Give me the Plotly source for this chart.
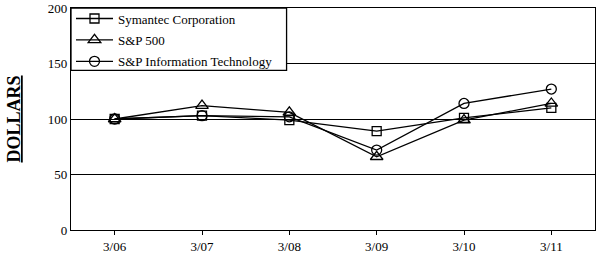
import plotly.graph_objects as go

categories = ["3/06", "3/07", "3/08", "3/09", "3/10", "3/11"]
symantec = [100, 103, 99, 89, 101, 110]
sp500 = [100, 112, 106, 66, 99, 114]
sp_it = [100, 103, 102, 72, 114, 127]

font_family = "Liberation Serif"

fig = go.Figure()
series = [
    ("Symantec Corporation", symantec, "square-open", 9),
    ("S&P 500", sp500, "triangle-up-open", 11),
    ("S&P Information Technology", sp_it, "circle-open", 10),
]
for i, (name, vals, sym, size) in enumerate(series):
    fig.add_trace(go.Scatter(
        x=list(range(len(categories))), y=vals, name=name, mode="lines+markers",
        legendgroup=f"g{i}",
        line=dict(color="black", width=1.3),
        marker=dict(symbol=sym, size=size, color="black", line=dict(width=1.3, color="black")),
    ))

# legend frame
fig.add_shape(type="rect", xref="paper", yref="paper", x0=0, x1=0.4114, y0=0.7188, y1=1,
              line=dict(color="black", width=1.3), fillcolor="white", layer="above")

fig.update_layout(
    width=597, height=255,
    margin=dict(l=71, r=1, t=8, b=23),
    paper_bgcolor="white", plot_bgcolor="white",
    font=dict(family=font_family, size=13, color="black"),
    showlegend=True,
    legend=dict(
        x=0, y=1.02, xanchor="left", yanchor="top",
        borderwidth=0, bgcolor="rgba(0,0,0,0)",
        font=dict(family=font_family, size=13),
        itemwidth=37, tracegroupgap=1.5,
    ),
    xaxis=dict(
        range=[-0.5, 5.5], tickmode="array", tickvals=list(range(len(categories))),
        ticktext=categories, showgrid=False, zeroline=False,
        showline=True, linecolor="black", linewidth=1.3, mirror=True,
        ticks="outside", ticklen=4, tickcolor="black",
    ),
    yaxis=dict(
        range=[0, 200], tickvals=[0, 50, 100, 150, 200], showgrid=True,
        gridcolor="black", gridwidth=1.3, zeroline=False,
        showline=True, linecolor="black", linewidth=1.3, mirror=True,
        ticks="", ticklen=0,
        title=dict(text="<b><u>DOLLARS</u></b>", font=dict(family=font_family, size=18), standoff=22),
    ),
)

fig.write_html("out.html")
